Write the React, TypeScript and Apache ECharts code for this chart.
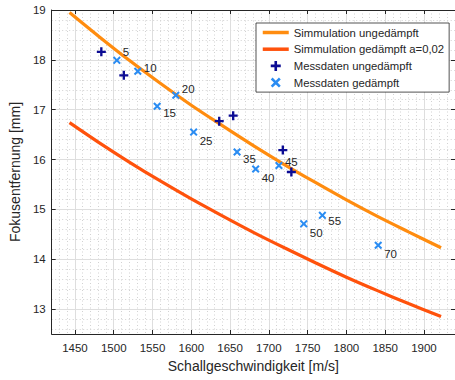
import React, { useEffect, useRef } from "react";
import * as echarts from "echarts";

// Simulated focal distance over speed of sound
const simSpeed = [1443, 1480, 1520, 1560, 1600, 1640, 1680, 1720, 1760, 1800, 1840, 1880, 1922];
const simUndamped = [18.95, 18.48, 17.99, 17.53, 17.09, 16.68, 16.28, 15.9, 15.54, 15.19, 14.86, 14.55, 14.23];
const simDamped = [16.74, 16.35, 15.95, 15.57, 15.21, 14.87, 14.54, 14.23, 13.93, 13.64, 13.37, 13.11, 12.85];

// Measurements without damping
const measUndampedSpeed = [1484, 1513, 1636, 1654, 1718, 1729];
const measUndampedFocus = [18.16, 17.69, 16.77, 16.88, 16.19, 15.75];

// Measurements with damping, annotated by their sample number
const measDampedSpeed = [1504, 1531, 1556, 1580, 1603, 1659, 1683, 1713, 1745, 1769, 1841];
const measDampedFocus = [17.99, 17.77, 17.07, 17.29, 16.55, 16.15, 15.81, 15.88, 14.71, 14.88, 14.28];
const measDampedLabels = ["5", "10", "15", "20", "25", "35", "40", "45", "50", "55", "70"];

// Axis ticks
const xTicks = [1450, 1500, 1550, 1600, 1650, 1700, 1750, 1800, 1850, 1900];
const yTicks = [13, 14, 15, 16, 17, 18, 19];

const SERIES_NAMES = [
  "Simmulation ungedämpft",
  "Simmulation gedämpft a=0,02",
  "Messdaten ungedämpft",
  "Messdaten gedämpft",
];

// vertical nudge of each annotation next to its marker (px)
const labelShift = [-8, -3, 7, -6, 9, 7, 9, -4, 9, 6, 9];

const X_MIN = 1420;
const X_MAX = 1940;
const Y_MIN = 12.5;
const Y_MAX = 19;

const FONT = "'Liberation Sans', Arial, Helvetica, sans-serif";
const INK = "#262626";
const MAJOR_GRID = "#dedede";
const MINOR_GRID = "#d2d2d2";
const ORANGE = "#ff8c0f";
const RED_ORANGE = "#ff520c";

const PLUS_PATH = "path://M3.7,0H6.3V3.7H10V6.3H6.3V10H3.7V6.3H0V3.7H3.7Z";
const CROSS_PATH =
  "path://M0,1.8L1.8,0L5,3.2L8.2,0L10,1.8L6.8,5L10,8.2L8.2,10L5,6.8L1.8,10L0,8.2L3.2,5Z";

function minorSteps(from: number, to: number, step: number, majorEvery: number): number[] {
  const out: number[] = [];
  const a = Math.round(from / step);
  const b = Math.round(to / step);
  for (let k = a; k <= b; k++) {
    if (k % majorEvery !== 0) out.push(+(k * step).toFixed(4));
  }
  return out;
}

export default function App() {
  const ref = useRef<HTMLDivElement>(null);

  useEffect(() => {
    if (!ref.current) return;
    const chart = echarts.init(ref.current, undefined, { renderer: "svg" });

    const xMinor = minorSteps(X_MIN, X_MAX, 10, 5);
    const yMinor = minorSteps(Y_MIN + 0.1, Y_MAX, 0.2, 5);

    const baseX = { type: "value", min: X_MIN, max: X_MAX, gridIndex: 0 } as any;
    const baseY = { type: "value", min: Y_MIN, max: Y_MAX, gridIndex: 0 } as any;
    const minorLine = { show: true, lineStyle: { color: MINOR_GRID, width: 1, type: [1, 2.5] } };

    const option: any = {
      animation: false,
      backgroundColor: "#ffffff",
      textStyle: { fontFamily: FONT },
      grid: { left: 48, top: 10, right: -3.5, bottom: 46, containLabel: false },
      xAxis: [
        {
          ...baseX,
          position: "bottom",
          name: "Schallgeschwindigkeit [m/s]",
          nameLocation: "middle",
          nameGap: 25,
          nameTextStyle: { fontSize: 14, color: INK, fontFamily: FONT },
          axisLine: { show: true, onZero: false, lineStyle: { color: INK, width: 1 } },
          axisTick: { show: true, inside: true, length: 4, customValues: xTicks, lineStyle: { color: INK } },
          axisLabel: {
            show: true,
            customValues: xTicks,
            fontSize: 11.5,
            color: INK,
            margin: 8,
            fontFamily: FONT,
            formatter: (v: number) => String(v),
          },
          splitLine: { show: true, lineStyle: { color: MAJOR_GRID, width: 1 } },
          z: 2,
        },
        {
          ...baseX,
          position: "bottom",
          axisLine: { show: false },
          axisTick: { show: false, customValues: xMinor },
          axisLabel: { show: false },
          splitLine: minorLine,
          z: 1,
        },
        {
          ...baseX,
          position: "top",
          axisLine: { show: true, onZero: false, lineStyle: { color: INK, width: 1 } },
          axisTick: { show: true, inside: true, length: 4, customValues: xTicks, lineStyle: { color: INK } },
          axisLabel: { show: false },
          splitLine: { show: false },
          z: 2,
        },
      ],
      yAxis: [
        {
          ...baseY,
          position: "left",
          name: "Fokusentfernung [mm]",
          nameLocation: "middle",
          nameGap: 20,
          nameTextStyle: { fontSize: 14, color: INK, fontFamily: FONT },
          axisLine: { show: true, onZero: false, lineStyle: { color: INK, width: 1 } },
          axisTick: { show: true, inside: true, length: 4, customValues: yTicks, lineStyle: { color: INK } },
          axisLabel: {
            show: true,
            customValues: yTicks,
            fontSize: 11.5,
            color: INK,
            margin: 6,
            fontFamily: FONT,
            formatter: (v: number) => String(v),
          },
          splitLine: { show: true, lineStyle: { color: MAJOR_GRID, width: 1 } },
          z: 2,
        },
        {
          ...baseY,
          position: "left",
          axisLine: { show: false },
          axisTick: { show: false, customValues: yMinor },
          axisLabel: { show: false },
          splitLine: minorLine,
          z: 1,
        },
        {
          ...baseY,
          position: "right",
          axisLine: { show: true, onZero: false, lineStyle: { color: INK, width: 1 } },
          axisTick: { show: true, inside: true, length: 4, customValues: yTicks, lineStyle: { color: INK } },
          axisLabel: { show: false },
          splitLine: { show: false },
          z: 2,
        },
      ],
      legend: {
        orient: "vertical",
        left: 256,
        top: 23,
        padding: [4, 5, 4, 5],
        itemWidth: 26,
        itemHeight: 10,
        itemGap: 5.7,
        backgroundColor: "#ffffff",
        borderColor: INK,
        borderWidth: 0.8,
        borderRadius: 0,
        textStyle: { fontSize: 11.3, color: INK, fontFamily: FONT },
        data: [
          { name: SERIES_NAMES[0], itemStyle: { opacity: 0 }, lineStyle: { width: 3.5, color: ORANGE } },
          { name: SERIES_NAMES[1], itemStyle: { opacity: 0 }, lineStyle: { width: 3.5, color: RED_ORANGE } },
          { name: SERIES_NAMES[2] },
          { name: SERIES_NAMES[3] },
        ],
      },
      series: [
        {
          name: SERIES_NAMES[0],
          type: "line",
          xAxisIndex: 0,
          yAxisIndex: 0,
          data: simSpeed.map((c, i) => [c, simUndamped[i]]),
          symbol: "none",
          smooth: 0.3,
          lineStyle: { color: ORANGE, width: 3.2 },
          itemStyle: { color: ORANGE },
          z: 3,
        },
        {
          name: SERIES_NAMES[1],
          type: "line",
          xAxisIndex: 0,
          yAxisIndex: 0,
          data: simSpeed.map((c, i) => [c, simDamped[i]]),
          symbol: "none",
          smooth: 0.3,
          lineStyle: { color: RED_ORANGE, width: 3.2 },
          itemStyle: { color: RED_ORANGE },
          z: 3,
        },
        {
          name: SERIES_NAMES[2],
          type: "scatter",
          xAxisIndex: 0,
          yAxisIndex: 0,
          data: measUndampedSpeed.map((c, i) => [c, measUndampedFocus[i]]),
          symbol: PLUS_PATH,
          symbolSize: 9,
          symbolKeepAspect: true,
          itemStyle: { color: "#0c0c94", opacity: 1 },
          z: 4,
        },
        {
          name: SERIES_NAMES[3],
          type: "scatter",
          xAxisIndex: 0,
          yAxisIndex: 0,
          data: measDampedSpeed.map((c, i) => ({
            value: [c, measDampedFocus[i]],
            label: { offset: [0, labelShift[i]] },
          })),
          symbol: CROSS_PATH,
          symbolSize: 8,
          symbolKeepAspect: true,
          itemStyle: { color: "#2a8cf2", opacity: 1 },
          label: {
            show: true,
            position: "right",
            distance: 2,
            fontSize: 11.5,
            color: INK,
            fontFamily: FONT,
            formatter: (p: any) => measDampedLabels[p.dataIndex],
          },
          z: 4,
        },
      ],
    };

    chart.setOption(option);
    return () => chart.dispose();
  }, []);

  return (
    <div
      ref={ref}
      style={{ position: "absolute", left: 0, top: 0, width: 455, height: 380, background: "#fff" }}
    />
  );
}
